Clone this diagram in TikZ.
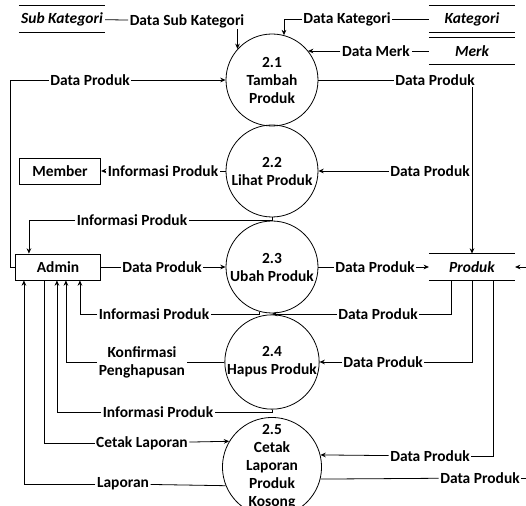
\documentclass[tikz,border=0pt]{standalone}
\usepackage{fontspec}
\setmainfont{Carlito}
\usepackage{tikz}
\usetikzlibrary{arrows.meta,positioning,calc}

\newcommand{\dfdfont}{\fontsize{11.6}{13.5}\selectfont\bfseries}

\begin{document}
\begin{tikzpicture}[x=0.75pt, y=-0.75pt, line width=0.6pt,
    proc/.style={circle, draw, minimum size=69pt, inner sep=0pt, align=center, font=\dfdfont},
    ent/.style={rectangle, draw, minimum height=19.5pt, font=\dfdfont},
    store/.style={minimum width=64pt, minimum height=19.5pt, inner sep=0pt, font=\dfdfont\itshape,
        append after command={(\tikzlastnode.north west) edge (\tikzlastnode.north east)
                              (\tikzlastnode.south west) edge (\tikzlastnode.south east)}},
    flow/.style={font=\dfdfont, inner sep=1pt, align=center},
    arrow/.style={-{Stealth[length=4pt, width=3.5pt]}}
]
    \useasboundingbox (0,0) rectangle (526,506);
    \clip (0,0) rectangle (526,506);

    % Processes
    \node[proc] (p21) at (272,80) {2.1\\Tambah\\Produk};
    \node[proc] (p22) at (272,171) {2.2\\Lihat Produk};
    \node[proc] (p23) at (272,267) {2.3\\Ubah Produk};
    \node[proc] (p24) at (272,362) {2.4\\Hapus Produk};
    \node[proc] (p25) at (272,467) {2.5\\Cetak\\Laporan\\Produk\\Kosong};

    % Entities
    \node[ent, minimum width=61pt] (member) at (60,171) {Member};
    \node[ent, minimum width=64pt] (admin) at (58,267) {Admin};

    % Data stores
    \node[store] (subkat) at (62,19) {Sub Kategori};
    \node[store] (kat) at (472,19) {Kategori};
    \node[store] (merk) at (472,51) {Merk};
    \node[store] (prod) at (472,267) {Produk};

    % Off-picture ends
    \coordinate (inprod) at (532,267);
    \coordinate (outp25) at (532,478);

    % Flow labels
    \node[flow] (dsk) at (187,21) {Data Sub Kategori};
    \node[flow] (dkat) at (347,19) {Data Kategori};
    \node[flow] (dmerk) at (376,51) {Data Merk};
    \node[flow] (dp1) at (90,80) {Data Produk};
    \node[flow] (dp2) at (435,80) {Data Produk};
    \node[flow] (dp3) at (430,171) {Data Produk};
    \node[flow] (ip1) at (163,171) {Informasi Produk};
    \node[flow] (ip2) at (132,220) {Informasi Produk};
    \node[flow] (dp4) at (162,267) {Data Produk};
    \node[flow] (dp5) at (375,267) {Data Produk};
    \node[flow] (dp6) at (378,314) {Data Produk};
    \node[flow] (ip3) at (154,314) {Informasi Produk};
    \node[flow] (kp) at (142,362) {Konfirmasi\\Penghapusan};
    \node[flow] (dp7) at (383,362) {Data Produk};
    \node[flow] (ip4) at (158,412) {Informasi Produk};
    \node[flow] (cl) at (142,443) {Cetak Laporan};
    \node[flow] (lap) at (123,484) {Laporan};
    \node[flow] (dp8) at (430,456) {Data Produk};
    \node[flow] (dp9) at (480,478) {Data Produk};

    % Into 2.1
    \draw (subkat) -- (dsk);
    \draw[arrow] (dsk.south -| p21.138) -- (p21.138);
    \draw (kat) -- (dkat);
    \draw[arrow] (dkat.west) -| (p21.75);
    \draw (merk) -- (dmerk);
    \draw[arrow] (dmerk.west) -- (dmerk.west -| p21.39);
    \draw (admin.west) -- ++(-5,0) |- (dp1);
    \draw[arrow] (dp1) -- (p21);
    \draw (p21) -- (dp2);
    \draw[arrow] (dp2.south -| prod) -- (prod.north);

    % 2.2
    \draw ($(prod.north west)+(22,0)$) -- ($(prod.north west)+(22,0)$ |- dp3.south);
    \draw[arrow] (dp3) -- (p22);
    \draw (p22) -- (ip1);
    \draw[arrow] (ip1) -- (member);
    \draw (p22.south) |- (ip2);
    \draw[arrow] (ip2) -| ($(admin.north west)+(14,0)$);

    % 2.3
    \draw (admin) -- (dp4);
    \draw[arrow] (dp4) -- (p23);
    \draw (p23) -- (dp5);
    \draw[arrow] (dp5) -- (prod);
    \draw ($(prod.south west)+(22,0)$) |- (dp6);
    \draw[arrow] (dp6) -- (dp6 -| p23.south);
    \draw (p23.254) |- (ip3);
    \draw[arrow] (ip3) -| ($(admin.south west)+(65,0)$);

    % 2.4
    \draw (p24) -- (kp);
    \draw[arrow] (kp) -| ($(admin.south west)+(51,0)$);
    \draw (prod.south) |- (dp7);
    \draw[arrow] (dp7) -- (p24);
    \draw (p24.south) |- (ip4);
    \draw[arrow] (ip4) -| ($(admin.south west)+(42,0)$);

    % 2.5
    \draw ($(admin.south west)+(29,0)$) |- (cl);
    \draw[arrow] (cl) -- (p25.149);
    \draw (p25.202) -- (lap);
    \draw[arrow] (lap) -| ($(admin.south west)+(9,0)$);
    \draw ($(prod.south west)+(64,0)$) |- (dp8);
    \draw[arrow] (dp8) -- (p25.14);
    \draw (p25.-14) -- (dp9);
    \draw (dp9) -- (outp25);
    \draw[arrow] (inprod) -- (prod);
\end{tikzpicture}
\end{document}
